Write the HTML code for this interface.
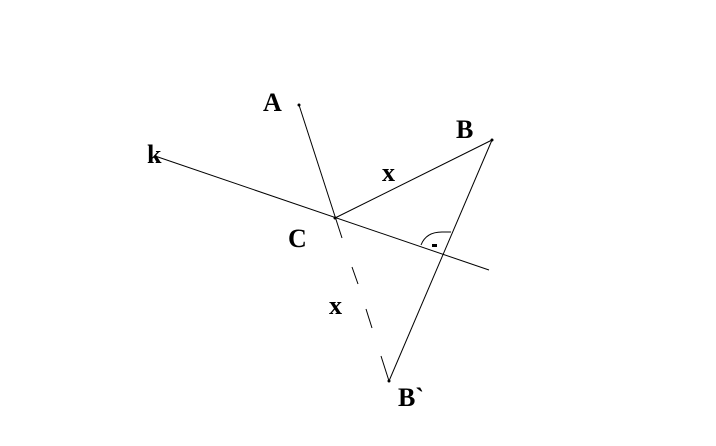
<!DOCTYPE html>
<html><head><style>
html,body{margin:0;padding:0;background:#fff;}
svg{display:block;}
text{font-family:"Liberation Serif",serif;font-weight:bold;font-size:26px;fill:#000;}
</style></head><body>
<svg width="716" height="446" viewBox="0 0 716 446" xmlns="http://www.w3.org/2000/svg">
<g stroke="#000" stroke-width="1" fill="none">
<line x1="155" y1="156" x2="489" y2="270"/>
<line x1="299" y1="105" x2="342" y2="238"/>
<line x1="335" y1="218" x2="492" y2="140"/>
<line x1="492" y1="140" x2="389" y2="381"/>
<line x1="352" y1="267" x2="358" y2="284"/>
<line x1="366" y1="309" x2="372" y2="328"/>
<line x1="381" y1="356" x2="389" y2="381"/>
<path d="M421,245 Q426,232 442,232 L451,232"/>
</g>
<g fill="#000">
<circle cx="299" cy="105" r="1.5"/>
<circle cx="335" cy="218" r="1.5"/>
<circle cx="492" cy="140" r="1.5"/>
<circle cx="389" cy="381" r="1.5"/>
<rect x="432" y="244" width="5" height="3"/>
</g>
<text x="263" y="111">A</text>
<text x="456" y="138">B</text>
<text x="147" y="163">k</text>
<text x="382" y="181">x</text>
<text x="288" y="247">C</text>
<text x="329" y="314">x</text>
<text x="398" y="406">B`</text>
</svg>
</body></html>
